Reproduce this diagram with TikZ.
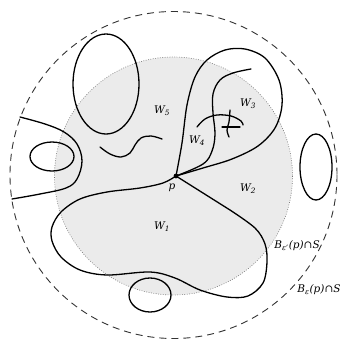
\documentclass[tikz,border=0pt]{standalone}
\usepackage{fontspec}
\setmainfont{DejaVu Serif}
\begin{document}
\begin{tikzpicture}[x=1pt,y=-1pt,
  curve/.style={line width=1.3pt, black, line join=round, line cap=round},
  lbl/.style={font=\fontsize{10.5}{12}\selectfont\itshape, inner sep=0pt},
  outerball/.style={line width=0.9pt, dash pattern=on 7pt off 5pt, black!80},
  innerball/.style={line width=0.6pt, dash pattern=on 0.8pt off 1.6pt, black!55, fill=black!8}]
\useasboundingbox (0,0) rectangle (343,338);
\coordinate (c) at (173.5,175);
% balls
\draw[innerball] (173.5,176) circle[radius=119];
\draw[outerball] (c) circle[radius=163.5];
% point p
\coordinate (p) at (176,176);
% ellipses
\draw[curve] (106,84) ellipse[x radius=33, y radius=50];
\draw[curve] (52,156.5) ellipse[x radius=22, y radius=14.5];
\draw[curve] (316,167) ellipse[x radius=16, y radius=33];
\draw[curve] (150,295) ellipse[x radius=21, y radius=17];
% left open curve
\draw[curve] plot[smooth, tension=0.6] coordinates {(20,117) (45,124) (64,132) (77,144) (82,161) (77,179) (66,188) (40,194) (12,199)};
% wavy curve in W5
\draw[curve] plot[smooth, tension=0.6] coordinates {(100,147) (110,154) (121,157) (130,153) (135,145) (141,138) (151,136) (162,139)};
% teardrop loop from p
\draw[curve] plot[smooth, tension=0.55] coordinates {(p) (182,143) (187,105) (195,77) (207,60) (225,50) (245,49) (265,58) (279,80) (282,105) (275,128) (258,146) (232,159) (203,168) (p)};
% inner curve from p
\draw[curve] plot[smooth, tension=0.6] coordinates {(p) (203,164) (212,151) (215,134) (213,113) (213,94) (220,80) (233,73) (251,69)};
% cross
\draw[curve] plot[smooth, tension=0.6] coordinates {(197,127) (205,119) (217,115) (231,116) (241,121) (243,125)};
\draw[curve] plot[smooth, tension=0.6] coordinates {(230,110) (229,122) (227,130) (229,137)};
\draw[curve] (222,127) -- (240,127);
% W1 loop
\draw[curve] plot[smooth, tension=0.55] coordinates {(p) (163,183) (140,188) (107,192) (80,199) (61,212) (52,227) (52,241) (61,257) (80,270) (107,275) (150,272) (175,278) (200,290) (227,297) (248,296) (263,283) (267,262) (265,244) (255,228) (230,210)} -- (p);
\fill (p) circle[radius=2.4];
% labels
\node[lbl] (lp) at (172,188) {p};
\node[lbl] (l5) at (162,111) {W\textsubscript{5}};
\node[lbl] (l3) at (248,104) {W\textsubscript{3}};
\node[lbl] (l4) at (197,141) {W\textsubscript{4}};
\node[lbl] (l2) at (248,189) {W\textsubscript{2}};
\node[lbl] (l1) at (162,227) {W\textsubscript{1}};
\node[lbl] (be1) at (297,246) {B\textsubscript{ε'}(p)∩S};
\node[lbl] (be) at (319,290) {B\textsubscript{ε}(p)∩S};
\end{tikzpicture}
\end{document}
